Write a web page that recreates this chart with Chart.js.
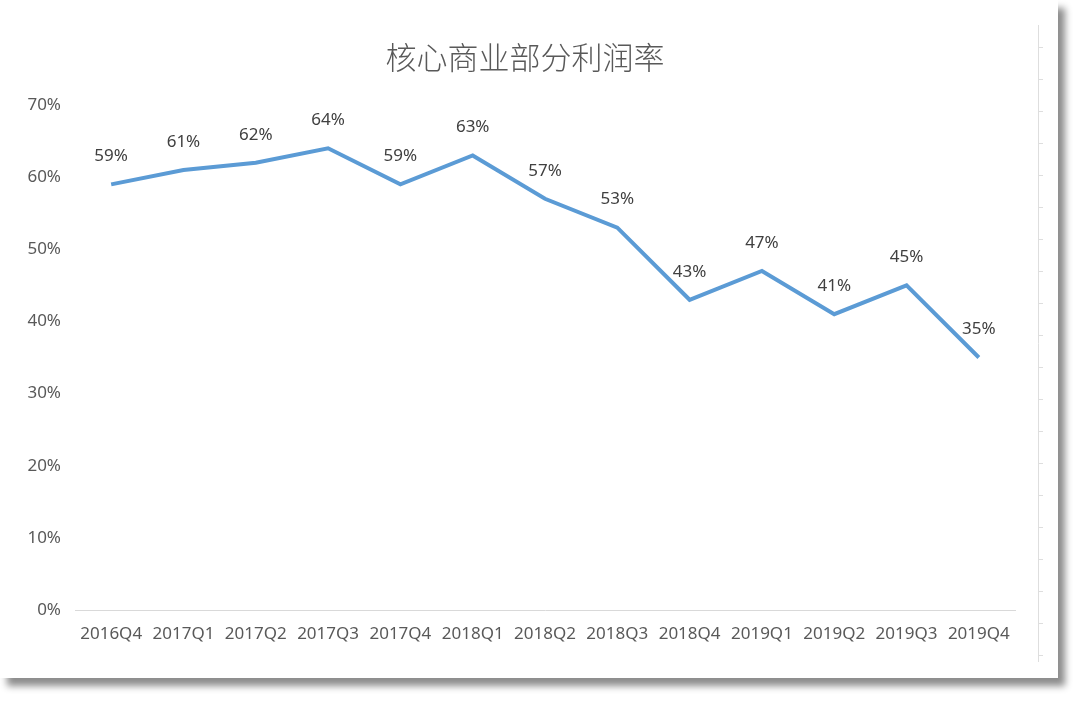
<!DOCTYPE html>
<html>
<head>
<meta charset="utf-8">
<script src="https://cdn.jsdelivr.net/npm/chart.js@4"></script>
<style>
  html, body { margin: 0; padding: 0; background: #fff; }
  .card {
    position: absolute; left: 0; top: 0;
    width: 1058px; height: 678px;
    background: #fff;
    box-shadow: 7px 8px 7px rgba(0,0,0,0.45);
  }
</style>
</head>
<body>
<div class="card"><canvas id="myChart" width="1058" height="678"></canvas></div>
<script>
// 数据
const quarters = ["2016Q4", "2017Q1", "2017Q2", "2017Q3", "2017Q4", "2018Q1", "2018Q2",
  "2018Q3", "2018Q4", "2019Q1", "2019Q2", "2019Q3", "2019Q4"];
const margins = [59, 61, 62, 64, 59, 63, 57, 53, 43, 47, 41, 45, 35];
const chartTitle = "核心商业部分利润率";

const textColor = "#595959";

// title + point labels + the little ruler on the right
const decor = {
  id: 'decor',
  afterDatasetsDraw(chart) {
    const c = chart.ctx;
    c.save();
    c.fillStyle = textColor;
    c.font = '300 31px "Noto Sans CJK SC"';
    c.textAlign = 'center';
    c.textBaseline = 'middle';
    c.fillText(chartTitle, 525, 57);

    c.fillStyle = "#404040";
    c.font = '17px "Noto Sans"';
    const meta = chart.getDatasetMeta(0);
    meta.data.forEach((pt, i) => {
      c.fillText(margins[i] + '%', pt.x, pt.y - 28);
    });

    // ruler
    c.strokeStyle = "#dedede";
    c.lineWidth = 1;
    c.beginPath();
    c.moveTo(1038.5, 25);
    c.lineTo(1038.5, 662);
    for (let y = 47; y < 660; y += 32) {
      c.moveTo(1038, y + 0.5);
      c.lineTo(1043, y + 0.5);
    }
    c.stroke();
    c.restore();
  }
};

new Chart(document.getElementById('myChart'), {
  type: 'line',
  data: {
    labels: quarters,
    datasets: [{
      data: margins,
      borderColor: "#5B9BD5",
      borderWidth: 4,
      pointRadius: 0,
      tension: 0,
      fill: false
    }]
  },
  options: {
    responsive: false,
    animation: false,
    layout: { padding: { left: 0, right: 43, top: 105, bottom: 0 } },
    plugins: {
      legend: { display: false },
      tooltip: { enabled: false }
    },
    scales: {
      x: {
        offset: true,
        grid: { display: false, drawTicks: false },
        border: { display: true, color: "#d9d9d9", width: 1 },
        ticks: {
          color: textColor,
          font: { size: 17, family: 'Noto Sans' },
          padding: 14,
          maxRotation: 0,
          autoSkip: false
        },
        afterFit(scale) { scale.height = 68; }
      },
      y: {
        min: 0,
        max: 70,
        grid: { display: false, drawTicks: false },
        border: { display: false },
        ticks: {
          stepSize: 10,
          color: textColor,
          font: { size: 17, family: 'Noto Sans' },
          padding: 14,
          callback: v => v + '%'
        },
        afterFit(scale) { scale.width = 75; }
      }
    }
  },
  plugins: [decor]
});
</script>
</body>
</html>
